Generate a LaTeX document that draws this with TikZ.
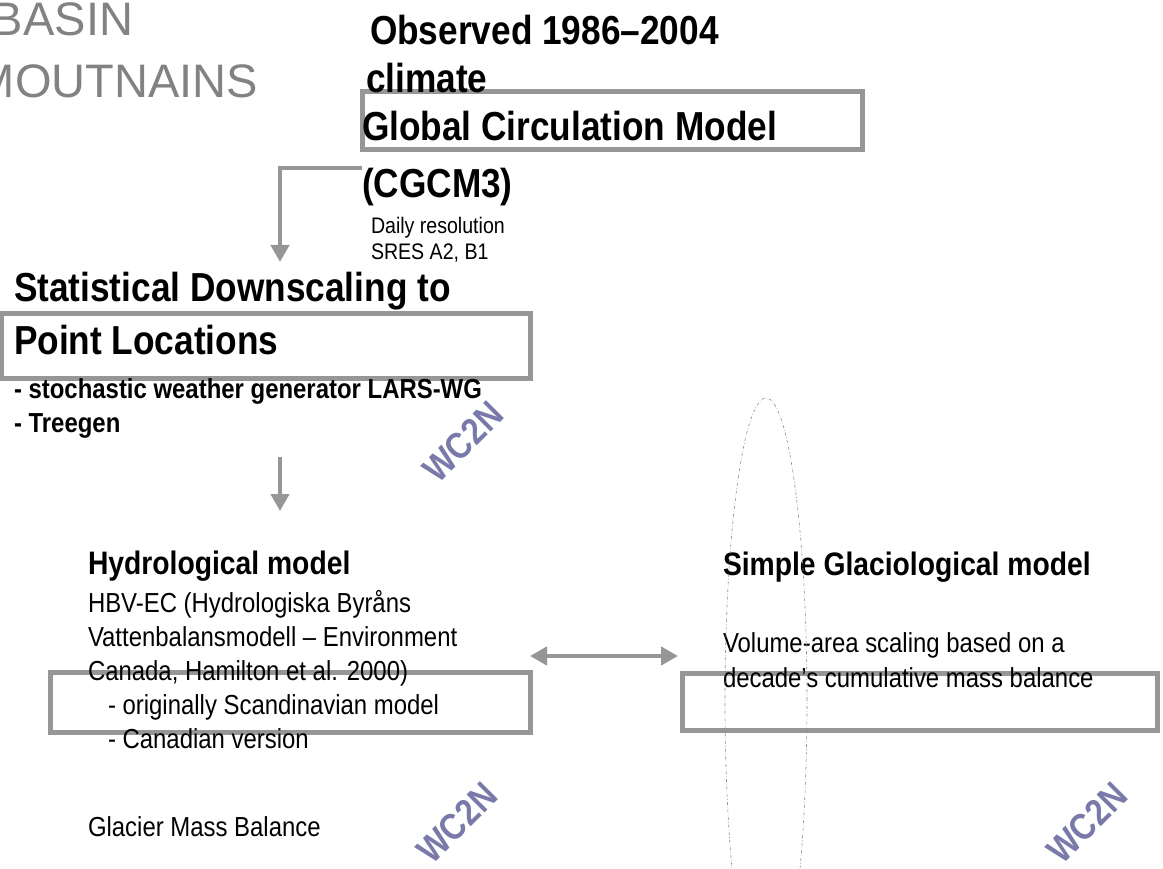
\documentclass[tikz,border=0pt]{standalone}
\usepackage{fontspec}
\setmainfont[FakeStretch=0.87]{Liberation Sans}
\newfontfamily\titlefont{Liberation Sans}
\usetikzlibrary{arrows.meta}
\definecolor{boxgray}{RGB}{150,150,150}
\definecolor{titlegray}{RGB}{130,130,130}
\definecolor{markblue}{RGB}{122,122,170}
\definecolor{ellgray}{RGB}{140,140,140}
\begin{document}
\begin{tikzpicture}[x=1pt,y=-1pt,
  every node/.style={inner sep=0pt, outer sep=0pt},
  txt/.style={anchor=base west},
  titletxt/.style={anchor=base east, text=titlegray, font=\titlefont\fontsize{47}{50}\selectfont},
  bigbold/.style={txt, font=\fontsize{40.5}{44}\selectfont\bfseries},
  modelbold/.style={txt, font=\fontsize{32.5}{36}\selectfont\bfseries},
  smallbold/.style={txt, font=\fontsize{27.5}{30}\selectfont\bfseries},
  body/.style={txt, font=\fontsize{27.5}{30}\selectfont},
  smallbody/.style={txt, font=\fontsize{22.5}{26}\selectfont},
  framebox/.style={draw=boxgray, line width=5pt},
  conn/.style={draw=boxgray, line width=4.5pt, -{Triangle[length=17pt,width=18pt]}},
  dconn/.style={draw=boxgray, line width=4.5pt, {Triangle[length=17pt,width=18pt]}-{Triangle[length=17pt,width=18pt]}},
  wmark/.style={text=markblue, font=\fontsize{37}{40}\selectfont\bfseries, rotate=45},
  oval/.style={draw=ellgray, line width=0.6pt, dash pattern=on 3pt off 2pt on 0.6pt off 2pt}
]
\useasboundingbox (0,0) rectangle (1163,869);

% title (partly cut at the left edge, as in the reference)
\node[titletxt] (t1) at (133,36) {BASIN};
\node[titletxt] (t2) at (258,98) {MOUTNAINS};

% boxes
\node[framebox, minimum width=500pt, minimum height=58pt] (box1) at (612,121) {};
\node[framebox, minimum width=529pt, minimum height=64pt] (box2) at (265.5,346) {};
\node[framebox, minimum width=480pt, minimum height=60pt] (box3) at (290,702) {};
\node[framebox, minimum width=475pt, minimum height=57pt] (box4) at (919.5,701.5) {};

% top block
\node[bigbold] (obs) at (370,45) {Observed 1986–2004};
\node[bigbold] (clim) at (366,93) {climate};
\node[bigbold] (gcm) at (362,141) {Global Circulation Model};
\node[bigbold] (cgcm) at (362,198) {(CGCM3)};
\node[smallbody] (daily) at (371,234) {Daily resolution};
\node[smallbody] (sres) at (371,260) {SRES A2, B1};

% downscaling block
\node[bigbold] (sd1) at (14,302) {Statistical Downscaling to};
\node[bigbold] (sd2) at (14,355) {Point Locations};
\node[smallbold] (sd3) at (14,398) {- stochastic weather generator LARS-WG};
\node[smallbold] (sd4) at (14,432) {- Treegen};

% hydrological block
\node[modelbold] (hm) at (88,574) {Hydrological model};
\node[body] (h1) at (88,612) {HBV-EC (Hydrologiska Byråns};
\node[body] (h2) at (88,646) {Vattenbalansmodell – Environment};
\node[body] (h3) at (88,680) {Canada, Hamilton et al. 2000)};
\node[body] (h4) at (108,714) {- originally Scandinavian model};
\node[body] (h5) at (108,748) {- Canadian version};
\node[body] (gmb) at (88,836) {Glacier Mass Balance};

% glaciological block
\node[modelbold] (gm) at (723,575) {Simple Glaciological model};
\node[body] (g1) at (723,652) {Volume-area scaling based on a};
\node[body] (g2) at (723,687) {decade’s cumulative mass balance};

% watermarks
\node[wmark] (wm1) at (463,442) {WC2N};
\node[wmark] (wm2) at (457,823) {WC2N};
\node[wmark] (wm3) at (1087,823) {WC2N};

% dashed oval
\draw[oval] (766,700) ellipse [x radius=41pt, y radius=302pt];

% connectors
\coordinate (a1s) at (362,168);
\coordinate (a1e) at (280,262);
\draw[conn] (a1s) -| (a1e);
\coordinate (a2s) at (280,457);
\coordinate (a2e) at (280,511);
\draw[conn] (a2s) -- (a2e);
\coordinate (a3s) at (530,656);
\coordinate (a3e) at (678,656);
\draw[dconn] (a3s) -- (a3e);
\end{tikzpicture}
\end{document}
